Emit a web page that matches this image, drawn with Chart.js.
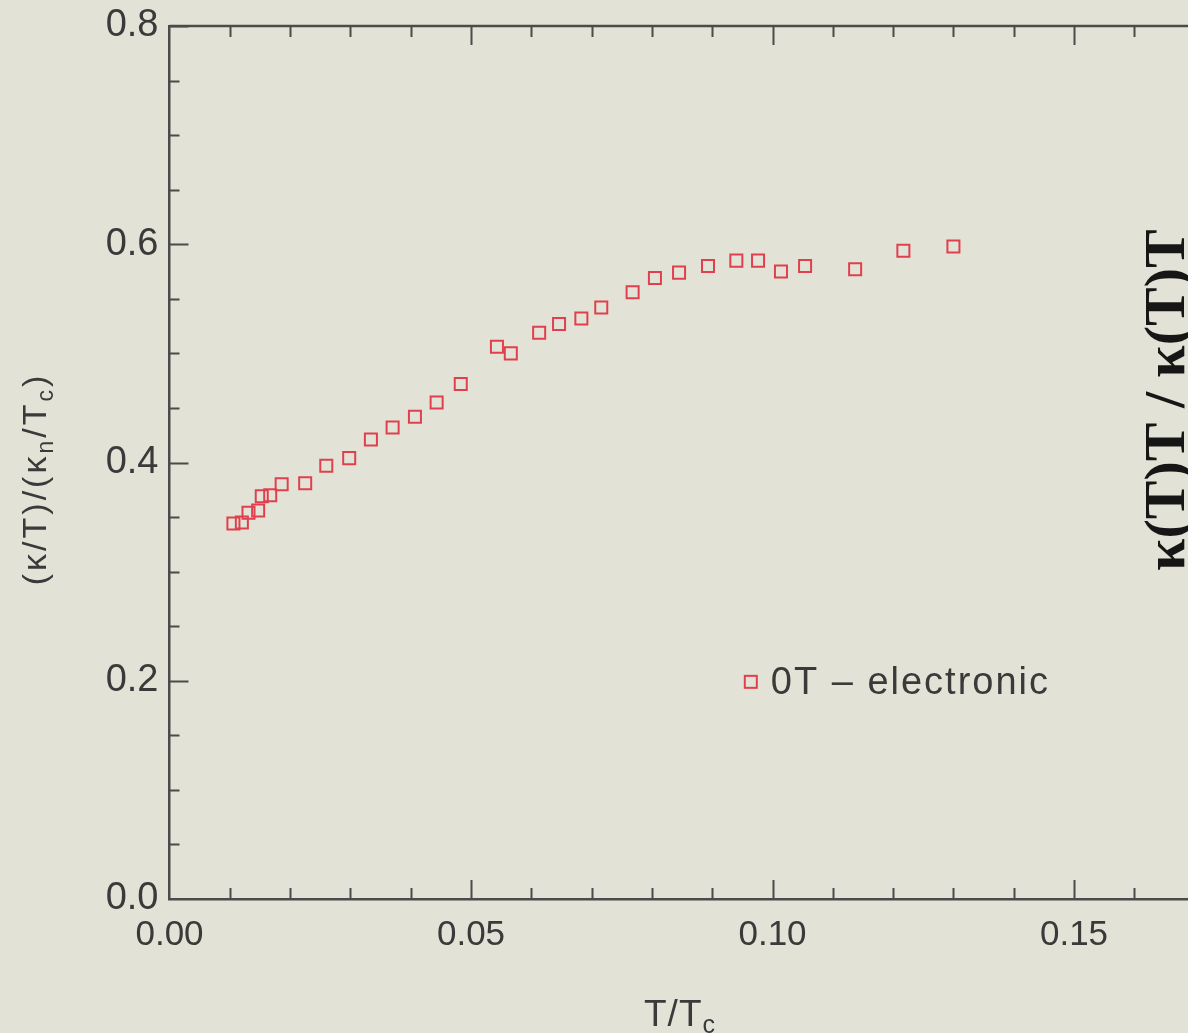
<!DOCTYPE html>
<html>
<head>
<meta charset="utf-8">
<script src="https://cdn.jsdelivr.net/npm/chart.js@4"></script>
<style>
  html, body { margin: 0; padding: 0; background: #e2e3d6; }
  #wrap { width: 1188px; height: 1033px; position: relative; }
</style>
</head>
<body>
<div id="wrap"><canvas id="kappaChart"></canvas></div>
<script>
"use strict";

// Reduced temperature T/Tc and normalised electronic conductivity (κ/T)/(κn/Tc)
const tOverTc = [
    0.0106, 0.0120, 0.0131, 0.0147, 0.0153, 0.0167, 0.0186, 0.0225,
    0.0260, 0.0298, 0.0334, 0.0370, 0.0407, 0.0443, 0.0483, 0.0543,
    0.0566, 0.0613, 0.0646, 0.0683, 0.0716, 0.0768, 0.0805, 0.0845,
    0.0893, 0.0940, 0.0976, 0.1014, 0.1054, 0.1137, 0.1217, 0.1300
];
const kappaRatio = [
    0.344, 0.345, 0.354, 0.356, 0.369, 0.370, 0.380, 0.381,
    0.397, 0.404, 0.421, 0.432, 0.442, 0.455, 0.472, 0.506,
    0.500, 0.519, 0.527, 0.532, 0.542, 0.556, 0.569, 0.574,
    0.580, 0.585, 0.585, 0.575, 0.580, 0.577, 0.594, 0.598
];
const seriesLabel = '0T \u2013 electronic';

const xTickValues = [0, 0.05, 0.10, 0.15];
const yTickValues = [0, 0.2, 0.4, 0.6, 0.8];
const xMinorStep = 0.01;
const yMinorStep = 0.05;

const AXIS_COLOR = '#4b4b4b';
const TEXT_COLOR = '#3a3a3a';
const MARK_COLOR = '#e0404e';
const SANS = '"Liberation Sans", Arial, Helvetica, sans-serif';

// draws a row of text pieces, some of them as subscripts; (x, y) is the centre of the baseline
function drawRuns(ctx, runs, x, y, size, spacing = 0) {
    const subSize = Math.round(size * 0.68);
    ctx.letterSpacing = spacing + 'px';
    let total = 0;
    runs.forEach(r => {
        ctx.font = `${r.sub ? subSize : size}px ${SANS}`;
        total += ctx.measureText(r.t).width;
    });
    let cx = x - total / 2;
    ctx.textAlign = 'left';
    ctx.textBaseline = 'alphabetic';
    runs.forEach(r => {
        ctx.font = `${r.sub ? subSize : size}px ${SANS}`;
        ctx.fillText(r.t, cx, r.sub ? y + size * 0.2 : y);
        cx += ctx.measureText(r.t).width;
    });
    ctx.letterSpacing = '0px';
}

const nearMultiple = (v, step) => Math.abs(v / step - Math.round(v / step)) < 1e-6;

// inward tick marks on the left, bottom and top edges, plus the top frame line
const innerTicks = {
    id: 'innerTicks',
    afterDraw(chart) {
        const { ctx, chartArea: a, scales: { x, y } } = chart;
        ctx.save();
        ctx.strokeStyle = AXIS_COLOR;
        ctx.lineWidth = 2.5;
        ctx.beginPath();
        ctx.moveTo(a.left, a.top);
        ctx.lineTo(a.right, a.top);
        ctx.stroke();

        ctx.lineWidth = 2;
        ctx.beginPath();
        for (let i = 1; i * xMinorStep <= x.max + 1e-9; i++) {
            const v = i * xMinorStep;
            const px = Math.round(x.getPixelForValue(v)) + 0.5;
            const len = nearMultiple(v, 0.05) ? 19 : 11;
            ctx.moveTo(px, a.bottom);
            ctx.lineTo(px, a.bottom - len);
            ctx.moveTo(px, a.top);
            ctx.lineTo(px, a.top + len);
        }
        for (let j = 1; j * yMinorStep <= y.max + 1e-9; j++) {
            const v = j * yMinorStep;
            const py = Math.round(y.getPixelForValue(v)) + 0.5;
            const len = nearMultiple(v, 0.2) ? 19 : 10;
            ctx.moveTo(a.left, py);
            ctx.lineTo(a.left + len, py);
        }
        ctx.stroke();
        ctx.restore();
    }
};

// axis titles with subscripts, the in-plot legend and the label of the neighbouring panel
const annotations = {
    id: 'annotations',
    afterDraw(chart) {
        const { ctx, scales: { x, y } } = chart;
        const ds = chart.data.datasets[0];
        ctx.save();
        ctx.fillStyle = TEXT_COLOR;

        drawRuns(ctx, [{ t: 'T/T' }, { t: 'c', sub: true }], 680, 1026, 37, 1);

        ctx.save();
        ctx.translate(46, 479);
        ctx.rotate(-Math.PI / 2);
        drawRuns(ctx, [
            { t: '(\u03ba/T)/(\u03ba' }, { t: 'n', sub: true },
            { t: '/T' }, { t: 'c', sub: true }, { t: ')' }
        ], 0, 0, 34, 3);
        ctx.restore();

        // legend entry
        const lx = x.getPixelForValue(0.0964);
        const ly = y.getPixelForValue(0.199);
        ctx.strokeStyle = MARK_COLOR;
        ctx.lineWidth = 2;
        ctx.strokeRect(lx - 6, ly - 6, 12, 12);
        ctx.font = `38px ${SANS}`;
        ctx.letterSpacing = '2px';
        ctx.textAlign = 'left';
        ctx.textBaseline = 'middle';
        ctx.fillStyle = TEXT_COLOR;
        ctx.fillText(ds.label, lx + 20, ly + 2);
        ctx.letterSpacing = '0px';

        // y title of the next panel, mostly cut off by the edge
        ctx.save();
        ctx.translate(1184, 400);
        ctx.rotate(-Math.PI / 2);
        ctx.font = 'bold 58px "Liberation Serif", "Times New Roman", serif';
        ctx.textAlign = 'center';
        ctx.textBaseline = 'alphabetic';
        ctx.fillStyle = '#161616';
        ctx.fillText('\u03ba(T)T / \u03ba(T)T', 0, 0);
        ctx.restore();

        ctx.restore();
    }
};

const background = {
    id: 'background',
    beforeDraw(chart) {
        const { ctx, width, height } = chart;
        ctx.save();
        ctx.fillStyle = '#e2e3d6';
        ctx.fillRect(0, 0, width, height);
        ctx.restore();
    }
};

const points = tOverTc.map((t, i) => ({ x: t, y: kappaRatio[i] }));

new Chart(document.getElementById('kappaChart'), {
    type: 'scatter',
    data: {
        datasets: [{
            label: seriesLabel,
            data: points,
            pointStyle: 'rect',
            pointRadius: 8.5,
            pointHoverRadius: 8.5,
            pointBorderWidth: 2,
            pointBorderColor: MARK_COLOR,
            pointBackgroundColor: 'rgba(0,0,0,0)'
        }]
    },
    options: {
        responsive: true,
        maintainAspectRatio: false,
        animation: false,
        layout: { autoPadding: false, padding: { top: 26, right: 0, left: 0, bottom: 0 } },
        plugins: {
            legend: { display: false },
            tooltip: { enabled: false }
        },
        scales: {
            x: {
                type: 'linear',
                min: 0,
                max: 0.1689,
                afterBuildTicks: scale => { scale.ticks = xTickValues.map(v => ({ value: v })); },
                afterFit: scale => {
                    scale.height = 134;
                    scale.paddingLeft = 0;
                    scale.paddingRight = 0;
                },
                grid: { display: false, drawTicks: false },
                border: { display: true, color: AXIS_COLOR, width: 2.5 },
                ticks: {
                    color: TEXT_COLOR,
                    font: { family: SANS, size: 35 },
                    padding: 15,
                    maxRotation: 0,
                    callback: v => Number(v).toFixed(2)
                }
            },
            y: {
                type: 'linear',
                min: 0,
                max: 0.8,
                afterBuildTicks: scale => { scale.ticks = yTickValues.map(v => ({ value: v })); },
                afterFit: scale => {
                    scale.width = 169.5;
                    scale.paddingTop = 0;
                    scale.paddingBottom = 0;
                },
                grid: { display: false, drawTicks: false },
                border: { display: true, color: AXIS_COLOR, width: 2.5 },
                ticks: {
                    color: TEXT_COLOR,
                    font: { family: SANS, size: 38 },
                    padding: 11,
                    callback: v => Number(v).toFixed(1)
                }
            }
        }
    },
    plugins: [background, innerTicks, annotations]
});
</script>
</body>
</html>
